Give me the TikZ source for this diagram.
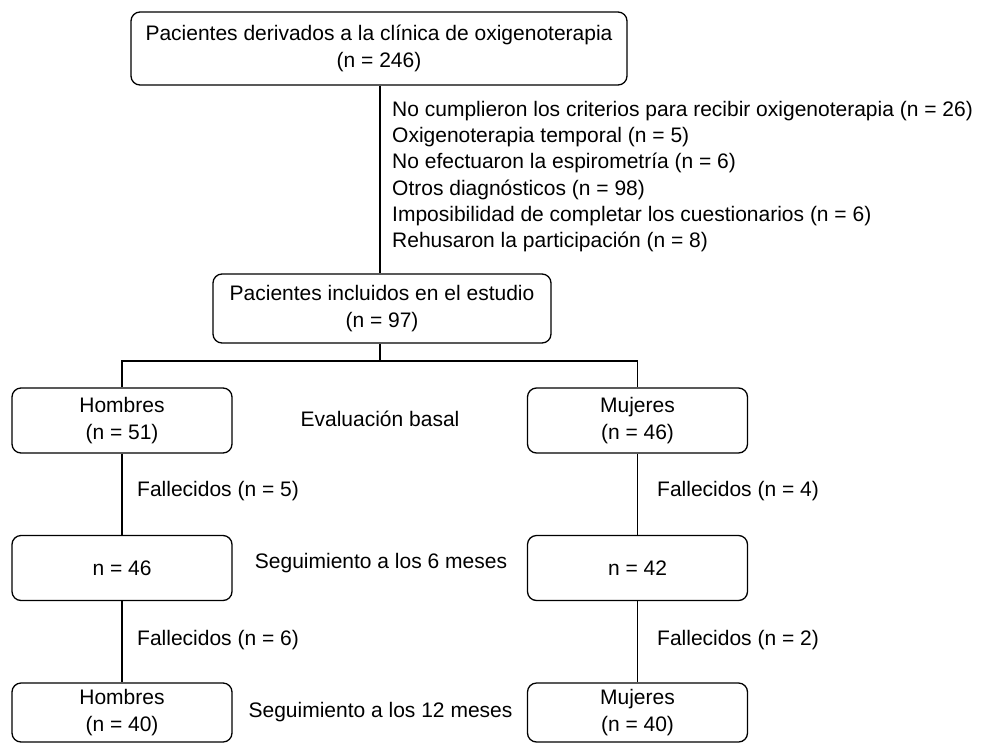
\documentclass[tikz,border=0pt]{standalone}
\usepackage{fontspec}
\setmainfont{Liberation Sans}
\usetikzlibrary{positioning}

\begin{document}
\begin{tikzpicture}[x=1pt, y=-1pt,
	font=\fontsize{21}{27}\selectfont,
	box/.style={draw, line width=1.3pt, rounded corners=9pt, align=center, inner sep=0pt},
	side/.style={box, minimum width=220pt, minimum height=65pt},
	lbl/.style={anchor=west, inner sep=0pt},
	link/.style={line width=1.3pt}]
	\useasboundingbox (0,0) rectangle (981,744);
	\node[box, minimum width=496pt, minimum height=73pt] (ref) at (379,48.5) {Pacientes derivados a la clínica de oxigenoterapia\\(n = 246)};
	\node[box, minimum width=338pt, minimum height=69pt] (inc) at (382,308.5) {Pacientes incluidos en el estudio\\(n = 97)};
	\node[side] (h1) at (122,420.5) {Hombres\\(n = 51)};
	\node[side] (h2) at (122,568) {n = 46};
	\node[side, minimum height=59pt] (h3) at (122,712.5) {Hombres\\(n = 40)};
	\node[side] (m1) at (637.5,420.5) {Mujeres\\(n = 46)};
	\node[side] (m2) at (637.5,568) {n = 42};
	\node[side, minimum height=59pt] (m3) at (637.5,712.5) {Mujeres\\(n = 40)};
	% exclusions
	\node[lbl, anchor=north west, align=left, font=\fontsize{21}{26.2}\selectfont] (exc) at (392,101) {No cumplieron los criterios para recibir oxigenoterapia (n = 26)\\
		Oxigenoterapia temporal (n = 5)\\
		No efectuaron la espirometría (n = 6)\\
		Otros diagnósticos (n = 98)\\
		Imposibilidad de completar los cuestionarios (n = 6)\\
		Rehusaron la participación (n = 8)};
	% stage labels
	\node (ev) at (380,419) {Evaluación basal};
	\node (s6) at (381,563) {Seguimiento a los 6 meses};
	\node (s12) at (380.5,712) {Seguimiento a los 12 meses};
	\node[lbl] (fh1) at (137,491) {Fallecidos (n = 5)};
	\node[lbl] (fh2) at (137,640) {Fallecidos (n = 6)};
	\node[lbl] (fm1) at (657,491) {Fallecidos (n = 4)};
	\node[lbl] (fm2) at (657,640) {Fallecidos (n = 2)};
	% connectors
	\coordinate (split) at (380,361);
	\draw[link] (split |- ref.south) -- (split |- inc.north);
	\draw[link] (split |- inc.south) -- (split);
	\draw[link] (h1.north) -- (h1.north |- split) -- (m1.north |- split) -- (m1.north);
	\draw[link] (h1) -- (h2) (h2) -- (h3);
	\draw[link] (m1) -- (m2) (m2) -- (m3);
\end{tikzpicture}
\end{document}
